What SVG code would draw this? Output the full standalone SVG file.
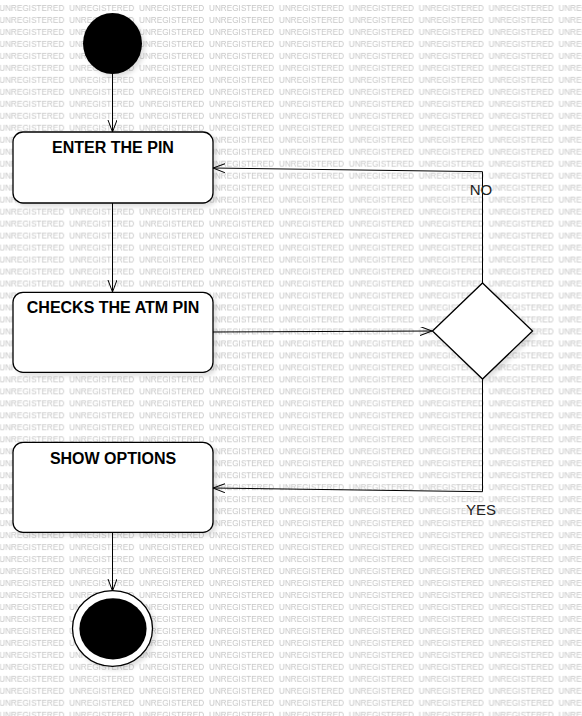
<svg xmlns="http://www.w3.org/2000/svg" width="582" height="716" viewBox="0 0 582 716">
<style>
.wm{font-family:"Liberation Sans",Arial,sans-serif;font-size:8.2px;fill:#c6c6c6;}
.box{fill:#fff;stroke:#000;stroke-width:1.3;}
.lbl{font-family:"Liberation Sans",Arial,sans-serif;font-size:16px;font-weight:bold;fill:#000;text-anchor:middle;}
.elbl{font-family:"Liberation Sans",Arial,sans-serif;font-size:15px;fill:#222;text-anchor:middle;}
.conn{fill:none;stroke:#000;stroke-width:1;}
</style>
<defs>
<pattern id="wmp" x="-0.7" y="0" width="69.9" height="11.98" patternUnits="userSpaceOnUse">
<text class="wm" x="0" y="10.5">UNREGISTERED</text>
</pattern>
<filter id="sh" x="-20%" y="-20%" width="150%" height="150%">
<feDropShadow dx="3" dy="3" stdDeviation="2" flood-color="#000" flood-opacity="0.12"/>
</filter>
<marker id="arr" markerUnits="userSpaceOnUse" markerWidth="14" markerHeight="11" refX="12" refY="4.5" orient="auto">
<path d="M0,0 L12,4.5 L0,9" fill="none" stroke="#000" stroke-width="1"/>
</marker>
</defs>
<rect x="0" y="0" width="582" height="716" fill="#fff"/>
<rect x="0" y="0" width="582" height="716" fill="url(#wmp)"/>
<g id="connectors">
<line class="conn" x1="112.5" y1="74" x2="112.5" y2="132" marker-end="url(#arr)"/>
<line class="conn" x1="112.5" y1="203" x2="112.5" y2="292" marker-end="url(#arr)"/>
<line class="conn" x1="213" y1="332" x2="432" y2="331" marker-end="url(#arr)"/>
<polyline class="conn" points="482.5,283 482.5,171.7 213,168" marker-end="url(#arr)"/>
<polyline class="conn" points="482.5,379 482.5,491.7 213,488" marker-end="url(#arr)"/>
<line class="conn" x1="112.5" y1="532" x2="112.5" y2="591" marker-end="url(#arr)"/>
<text class="elbl" x="481" y="195">NO</text>
<text class="elbl" x="481" y="514.5">YES</text>
</g>
<g id="start">
<ellipse cx="112.5" cy="43.5" rx="29.5" ry="30.5" fill="#000" filter="url(#sh)"/>
</g>
<g id="enter-pin">
<rect class="box" x="13" y="132" width="200" height="71" rx="10" filter="url(#sh)"/>
<text class="lbl" x="113" y="153.3">ENTER THE PIN</text>
</g>
<g id="check-pin">
<rect class="box" x="13" y="292.3" width="200" height="80" rx="10" filter="url(#sh)"/>
<text class="lbl" x="113" y="313.3">CHECKS THE ATM PIN</text>
</g>
<g id="decision">
<polygon class="box" points="482.5,283 532.5,331 482.5,379 432.5,331" filter="url(#sh)"/>
</g>
<g id="show-options">
<rect class="box" x="13" y="442.3" width="200" height="90" rx="10" filter="url(#sh)"/>
<text class="lbl" x="113" y="464">SHOW OPTIONS</text>
</g>
<g id="end">
<ellipse cx="112.5" cy="628.5" rx="40" ry="37.8" fill="#fff" stroke="#000" stroke-width="1.3" filter="url(#sh)"/>
<ellipse cx="113" cy="628.8" rx="33.6" ry="30.6" fill="#000"/>
</g>
</svg>
